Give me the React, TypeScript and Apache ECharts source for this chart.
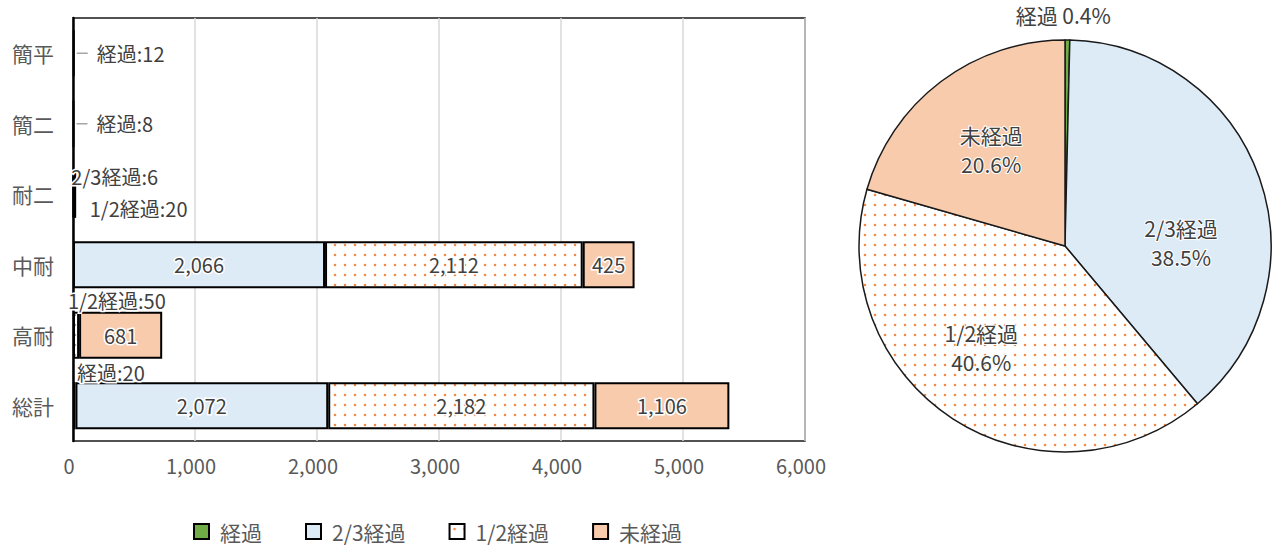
import React, { useEffect, useRef } from "react";
import * as echarts from "echarts";

// Building types (rows of the bar chart, top to bottom)
const categories = ["簡平", "簡二", "耐二", "中耐", "高耐", "総計"];

// Service-life status groups
const seriesNames = ["経過", "2/3経過", "1/2経過", "未経過"];

// Floor counts per building type for each status
const elapsed = [12, 8, null, null, null, 20];
const twoThirdsElapsed = [null, null, 6, 2066, null, 2072];
const halfElapsed = [null, null, 20, 2112, 50, 2182];
const notElapsed = [null, null, null, 425, 681, 1106];

// Value axis range
const xMin = 0;
const xMax = 6000;
const xStep = 1000;

const FONT = '"Noto Sans CJK JP", "Noto Sans", sans-serif';
const TEXT = "#404040";
const AXIS_TEXT = "#595959";

// Labels of small segments sit outside the bar
const calloutLabels: Record<string, { leader?: boolean; position?: number[] }> = {
  "経過|簡平": { leader: true },
  "経過|簡二": { leader: true },
  "2/3経過|耐二": { position: [-1, 7] },
  "1/2経過|耐二": { position: [16, 38] },
  "1/2経過|高耐": { position: [-5, -11] },
  "経過|総計": { position: [4, -10] },
};

// Pie label nudges away from the default inside spot
const pieLabelOffsets: Record<string, number[]> = {
  "経過": [-3, -125],
  "2/3経過": [16, 32],
  "1/2経過": [-26, 13],
  "未経過": [-10, -12],
};

function makeDotPattern() {
  const c = document.createElement("canvas");
  c.width = 10;
  c.height = 10;
  const ctx = c.getContext("2d")!;
  ctx.fillStyle = "#ffffff";
  ctx.fillRect(0, 0, 10, 10);
  ctx.fillStyle = "#F08A45";
  ctx.beginPath();
  ctx.arc(5, 5, 1.3, 0, Math.PI * 2);
  ctx.fill();
  return { image: c, repeat: "repeat", imageWidth: 10, imageHeight: 10 } as any;
}

export default function App() {
  const ref = useRef<HTMLDivElement>(null);

  useEffect(() => {
    if (!ref.current) return;
    const chart = echarts.init(ref.current, undefined, { renderer: "svg" });
    const dots = makeDotPattern();
    const fills: any[] = ["#70AD47", "#DDEBF7", dots, "#F8CBAD"];
    const values = [elapsed, twoThirdsElapsed, halfElapsed, notElapsed];

    const barSeries = seriesNames.map((name, si) => ({
      type: "bar",
      name,
      stack: "total",
      barCategoryGap: "33%",
      itemStyle: { color: fills[si], borderColor: "#000", borderWidth: 2 },
      label: {
        show: true,
        position: "inside",
        fontFamily: FONT,
        fontSize: 20,
        color: TEXT,
        textBorderColor: "#fff",
        textBorderWidth: 3,
        formatter: (p: any) => Number(p.value).toLocaleString("en-US"),
      },
      emphasis: { disabled: true },
      data: values[si].map((v, ci) => {
        if (v == null) return null;
        const call = calloutLabels[`${name}|${categories[ci]}`];
        if (!call) return v;
        if (call.leader) {
          return {
            value: v,
            label: {
              position: "right",
              distance: 2,
              formatter: `{ln| }{t|${name}:${v}}`,
              rich: {
                ln: { width: 11, height: 1.5, backgroundColor: "#A6A6A6" },
                t: {
                  fontFamily: FONT,
                  fontSize: 20,
                  color: TEXT,
                  padding: [0, 0, 0, 9],
                  textBorderColor: "#fff",
                  textBorderWidth: 3,
                },
              },
            },
          };
        }
        return {
          value: v,
          label: {
            position: call.position,
            align: "left",
            verticalAlign: "middle",
            formatter: `${name}:${v}`,
          },
        };
      }),
    }));

    // Pie shares the totals row; shares are rounded independently
    const totalIdx = categories.indexOf("総計");
    const pieValues = values.map((s) => s[totalIdx] as number);
    const pieSum = pieValues.reduce((a, b) => a + b, 0);
    const share = (v: number) => ((v / pieSum) * 100).toFixed(1);
    const pieData = seriesNames.map((name, si) => ({
      name,
      value: pieValues[si],
      itemStyle: { color: fills[si] },
      label: {
        offset: pieLabelOffsets[name],
        formatter: si === 0
          ? `${name} ${share(pieValues[si])}%`
          : `${name}\n${share(pieValues[si])}%`,
      },
    }));

    chart.setOption({
      animation: false,
      grid: {
        left: 73,
        right: 474,
        top: 18,
        bottom: 104,
        show: true,
        borderColor: "#1a1a1a",
        borderWidth: 1.5,
        backgroundColor: "transparent",
      },
      xAxis: {
        type: "value",
        min: xMin,
        max: xMax,
        interval: xStep,
        axisLine: { show: false },
        axisTick: { show: false },
        splitLine: { lineStyle: { color: "#D9D9D9", width: 1.5 } },
        axisLabel: {
          fontFamily: FONT,
          fontSize: 20,
          color: AXIS_TEXT,
          margin: 14,
          padding: [0, 8, 0, 0],
          formatter: (v: number) => v.toLocaleString("en-US"),
        },
      },
      yAxis: {
        type: "category",
        inverse: true,
        data: categories,
        axisTick: { show: false },
        axisLine: { lineStyle: { color: "#000", width: 2.5 } },
        axisLabel: { fontFamily: FONT, fontSize: 21, color: AXIS_TEXT, margin: 19 },
      },
      legend: {
        data: seriesNames,
        left: 188,
        top: 516,
        icon: "rect",
        itemWidth: 15,
        itemHeight: 15,
        itemGap: 43,
        selectedMode: false,
        textStyle: { fontFamily: FONT, fontSize: 21, color: AXIS_TEXT, padding: [0, 0, 0, 6] },
      },
      series: [
        ...barSeries,
        {
          type: "pie",
          center: [1065, 246],
          radius: 206,
          startAngle: 90,
          clockwise: true,
          emphasis: { disabled: true },
          itemStyle: { borderColor: "#1a1a1a", borderWidth: 1.5 },
          label: {
            position: "inside",
            fontFamily: FONT,
            fontSize: 21,
            lineHeight: 29,
            color: TEXT,
            textBorderColor: "#fff",
            textBorderWidth: 2,
          },
          labelLine: { show: false },
          data: pieData,
        },
      ],
    });

    return () => chart.dispose();
  }, []);

  return (
    <div
      ref={ref}
      style={{ position: "absolute", left: 0, top: 0, width: 1279, height: 545, background: "#fff" }}
    />
  );
}
